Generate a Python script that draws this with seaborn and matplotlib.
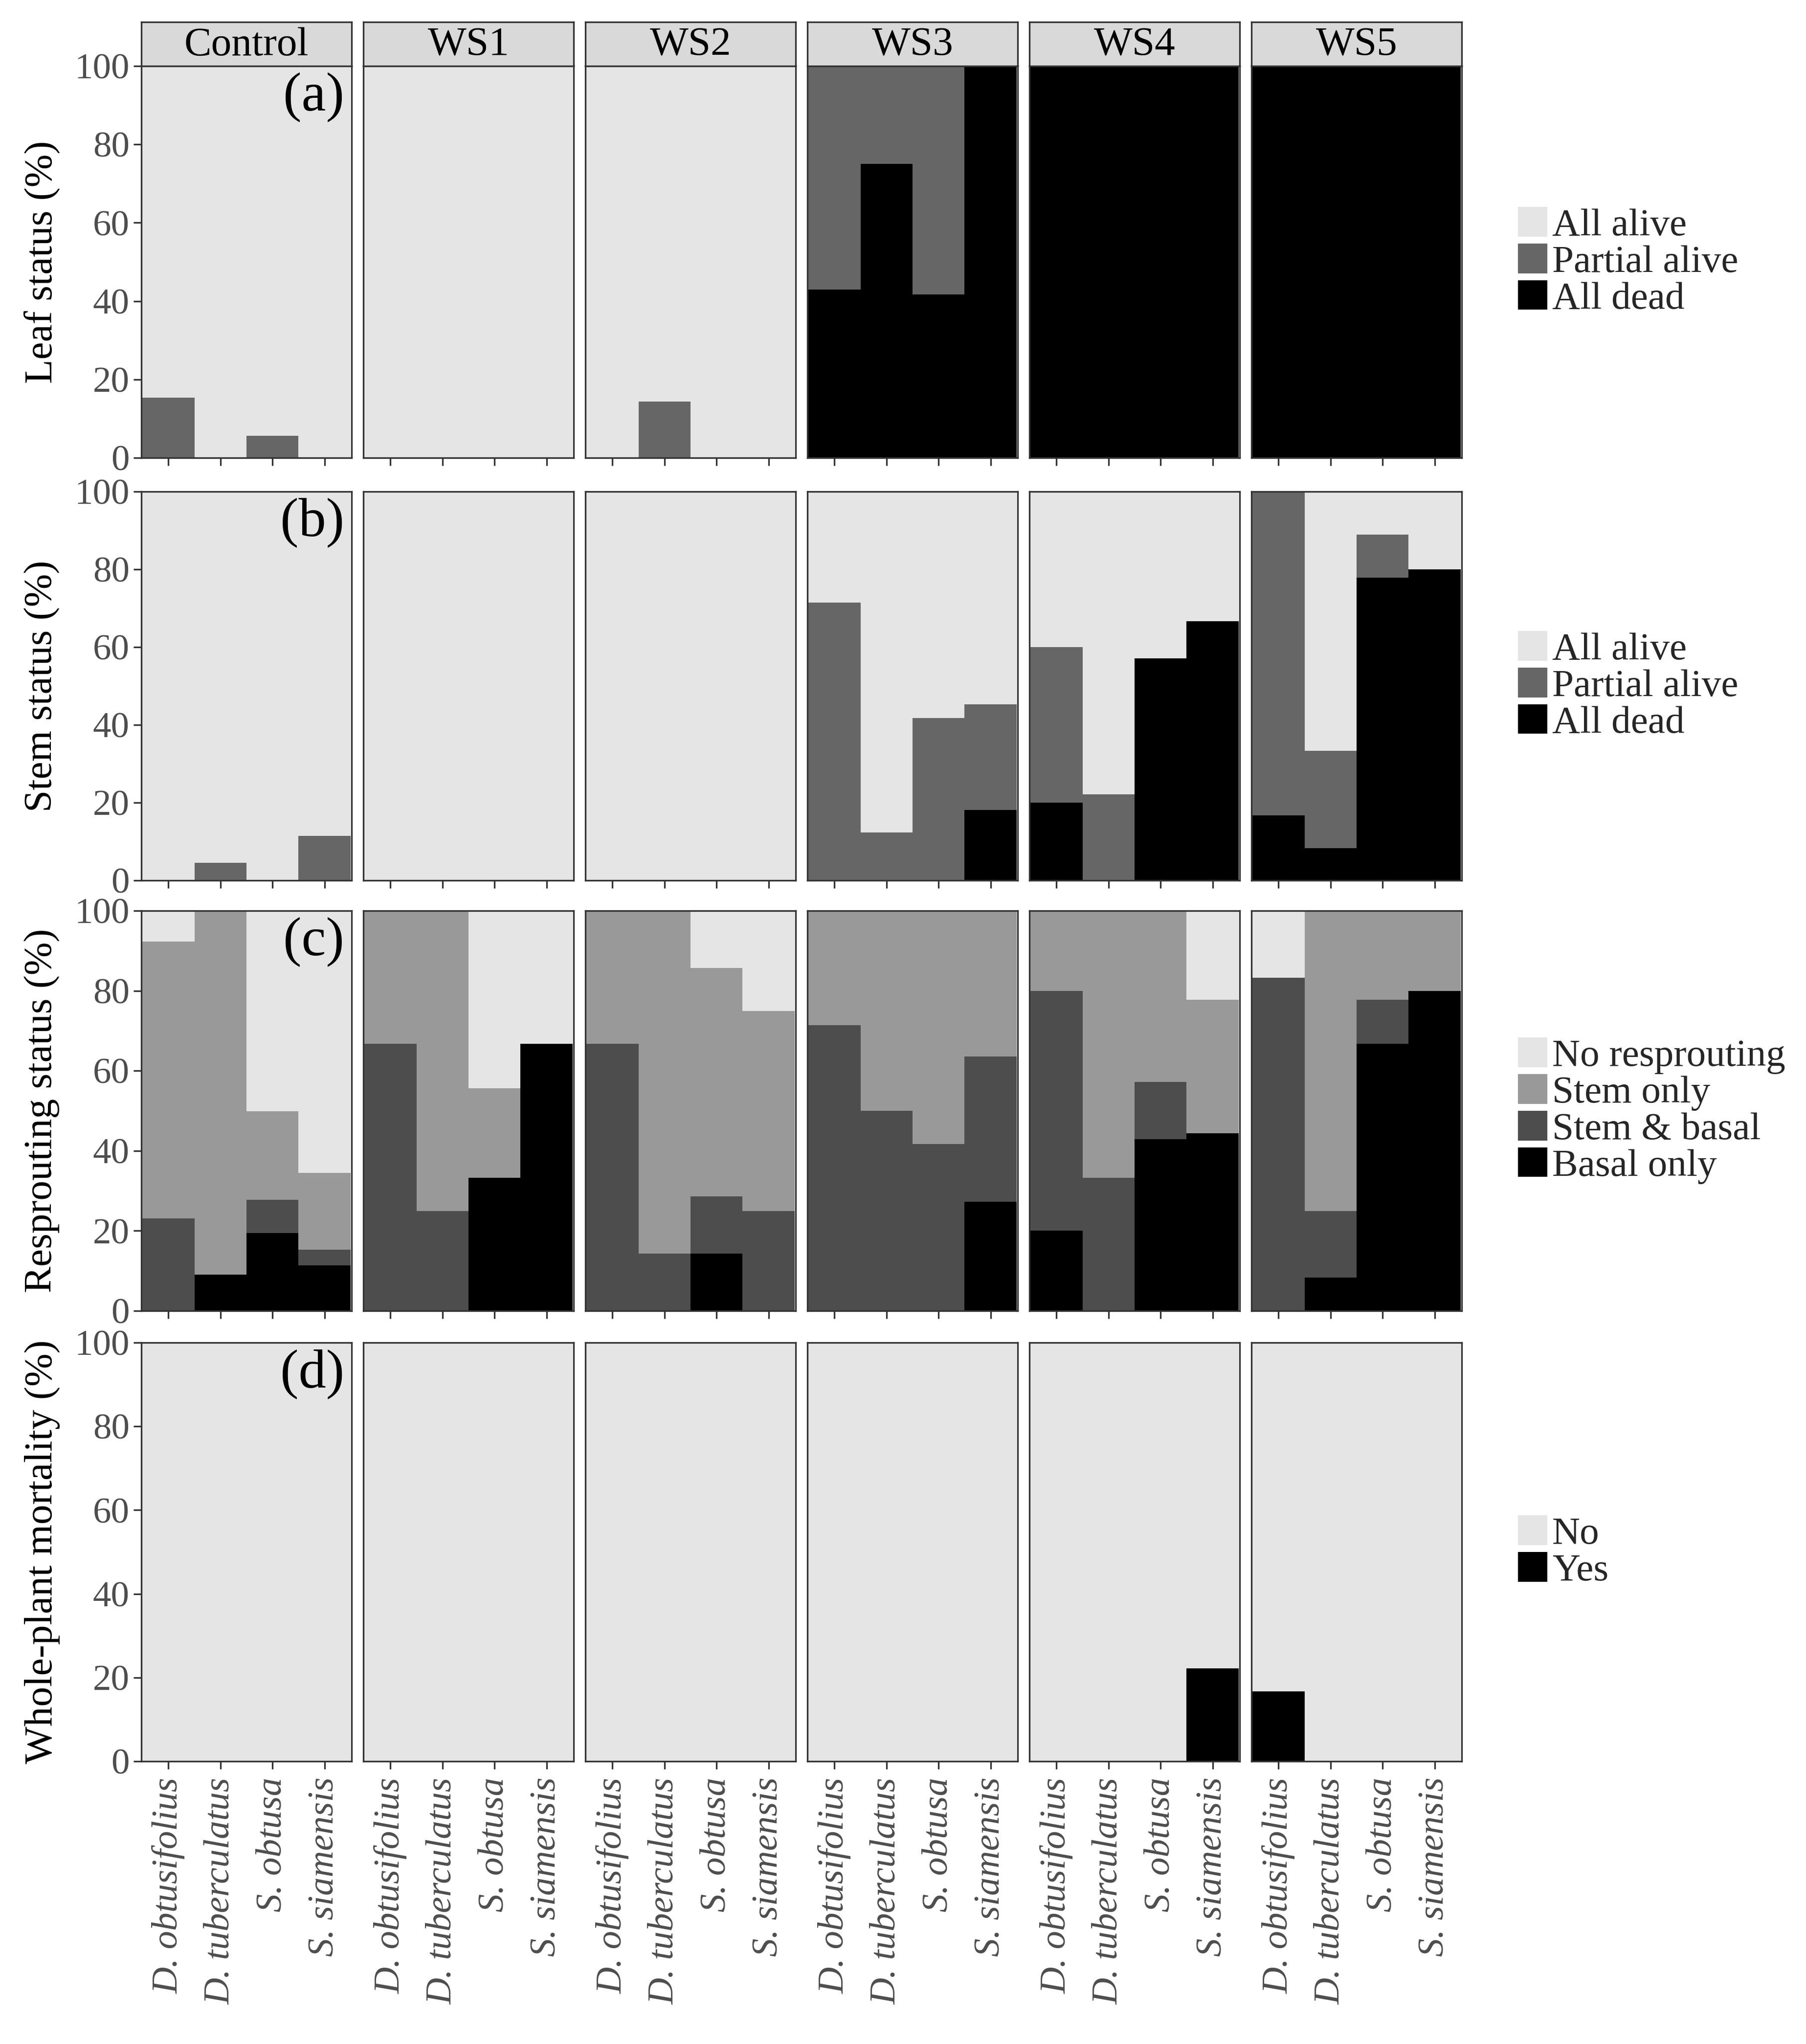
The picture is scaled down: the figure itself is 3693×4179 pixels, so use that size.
import numpy as np
import pandas as pd
import matplotlib
matplotlib.use("Agg")
import matplotlib.pyplot as plt
from matplotlib.patches import Patch
import seaborn as sns

# ---------------- data ----------------
treatments = ["Control", "WS1", "WS2", "WS3", "WS4", "WS5"]
species = ["D. obtusifolius", "D. tuberculatus", "S. obtusa", "S. siamensis"]

# values: 4 species per treatment, treatments in the order above
leaf_all_alive = [84.6, 100, 94.4, 100,  100, 100, 100, 100,  100, 85.7, 100, 100,
                  0, 0, 0, 0,  0, 0, 0, 0,  0, 0, 0, 0]
leaf_partial = [15.4, 0, 5.6, 0,  0, 0, 0, 0,  0, 14.3, 0, 0,
                57.1, 25.0, 58.3, 0,  0, 0, 0, 0,  0, 0, 0, 0]
leaf_all_dead = [0, 0, 0, 0,  0, 0, 0, 0,  0, 0, 0, 0,
                 42.9, 75.0, 41.7, 100,  100, 100, 100, 100,  100, 100, 100, 100]

stem_all_alive = [100, 95.5, 100, 88.6,  100, 100, 100, 100,  100, 100, 100, 100,
                  28.6, 87.7, 58.3, 54.7,  40.0, 77.8, 42.9, 33.3,  0, 66.7, 11.1, 20.0]
stem_partial = [0, 4.5, 0, 11.4,  0, 0, 0, 0,  0, 0, 0, 0,
                71.4, 12.3, 41.7, 27.2,  40.0, 22.2, 0, 0,  83.3, 25.0, 11.1, 0]
stem_all_dead = [0, 0, 0, 0,  0, 0, 0, 0,  0, 0, 0, 0,
                 0, 0, 0, 18.1,  20.0, 0, 57.1, 66.7,  16.7, 8.3, 77.8, 80.0]

resp_none = [7.7, 0, 50.0, 65.5,  0, 0, 44.4, 33.3,  0, 0, 14.3, 25.0,
             0, 0, 0, 0,  0, 0, 0, 22.2,  16.7, 0, 0, 0]
resp_stem_only = [69.2, 90.9, 22.2, 19.2,  33.3, 75.0, 22.3, 0,  33.3, 85.7, 57.1, 50.0,
                  28.6, 50.0, 58.3, 36.4,  20.0, 66.7, 42.8, 33.4,  0, 75.0, 22.2, 20.0]
resp_stem_basal = [23.1, 0, 8.3, 3.9,  66.7, 25.0, 0, 0,  66.7, 14.3, 14.3, 25.0,
                   71.4, 50.0, 41.7, 36.3,  60.0, 33.3, 14.3, 0,  83.3, 16.7, 11.1, 0]
resp_basal_only = [0, 9.1, 19.4, 11.4,  0, 0, 33.3, 66.7,  0, 0, 14.3, 0,
                   0, 0, 0, 27.3,  20.0, 0, 42.9, 44.4,  0, 8.3, 66.7, 80.0]

mort_no = [100, 100, 100, 100,  100, 100, 100, 100,  100, 100, 100, 100,
           100, 100, 100, 100,  100, 100, 100, 77.8,  83.3, 100, 100, 100]
mort_yes = [0, 0, 0, 0,  0, 0, 0, 0,  0, 0, 0, 0,
            0, 0, 0, 0,  0, 0, 0, 22.2,  16.7, 0, 0, 0]

C_LIGHT = "#E5E5E5"
C_MID = "#666666"
C_STEM = "#999999"
C_SB = "#4D4D4D"
C_BLACK = "#000000"

# rows: (ylabel, panel tag, [(label, values, colour)] from top of stack to bottom)
rows = [
    ("Leaf status (%)", "(a)", [("All alive", leaf_all_alive, C_LIGHT),
                                ("Partial alive", leaf_partial, C_MID),
                                ("All dead", leaf_all_dead, C_BLACK)]),
    ("Stem status (%)", "(b)", [("All alive", stem_all_alive, C_LIGHT),
                                ("Partial alive", stem_partial, C_MID),
                                ("All dead", stem_all_dead, C_BLACK)]),
    ("Resprouting status (%)", "(c)", [("No resprouting", resp_none, C_LIGHT),
                                       ("Stem only", resp_stem_only, C_STEM),
                                       ("Stem & basal", resp_stem_basal, C_SB),
                                       ("Basal only", resp_basal_only, C_BLACK)]),
    ("Whole-plant mortality (%)", "(d)", [("No", mort_no, C_LIGHT),
                                          ("Yes", mort_yes, C_BLACK)]),
]

# ---------------- style ----------------
sns.set_theme(style="white")
plt.rcParams["font.family"] = ["Liberation Serif", "DejaVu Serif"]

W, H = 3693, 4179
DPI = 300
fig = plt.figure(figsize=(W / DPI, H / DPI), dpi=DPI)
fig.patch.set_facecolor("white")

col_left0, panel_w, col_step = 289, 430, 454
row_bounds = [(135, 936), (1005, 1800), (1862, 2680), (2745, 3601)]
strip_bounds = (45, 135)
BORDER = "#333333"
TICKC = "#4D4D4D"


def frac_rect(x0, y0, x1, y1):
    return [x0 / W, 1 - y1 / H, (x1 - x0) / W, (y1 - y0) / H]


for r, (ylabel, tag, layers) in enumerate(rows):
    top, bot = row_bounds[r]
    for c, trt in enumerate(treatments):
        x0 = col_left0 + c * col_step
        ax = fig.add_axes(frac_rect(x0, top, x0 + panel_w, bot))
        ax.set_facecolor("white")
        sl = slice(c * 4, c * 4 + 4)
        vals = [np.array(v[sl], dtype=float) for (_, v, _) in layers]
        cum = np.cumsum(vals[::-1], axis=0)[::-1]
        for (lab, _, col), cv in zip(layers, cum):
            df = pd.DataFrame({"species": species, "value": cv})
            sns.barplot(data=df, x="species", y="value", order=species,
                        color=col, saturation=1, width=1.0, errorbar=None,
                        linewidth=0, ax=ax)
        ax.set_xlim(-0.52, 3.52)
        ax.set_ylim(0, 100)
        ax.set_xlabel("")
        ax.set_ylabel("")
        ax.set_yticks([0, 20, 40, 60, 80, 100])
        ax.grid(False)
        for sp in ax.spines.values():
            sp.set_visible(True)
            sp.set_color(BORDER)
            sp.set_linewidth(0.8)
        ax.tick_params(axis="both", which="both", length=3.8, width=0.8,
                       color=BORDER, direction="out", bottom=True,
                       left=(c == 0))
        if c == 0:
            ax.tick_params(axis="y", labelsize=18, labelcolor=TICKC, pad=2)
            ax.text(0.965, 0.985, tag, transform=ax.transAxes, ha="right",
                    va="top", fontsize=27, color="black")
        else:
            ax.set_yticklabels([])
        ax.set_xticks(range(4))
        if r == len(rows) - 1:
            ax.set_xticklabels(species, rotation=90, fontstyle="italic",
                               fontsize=18, color=TICKC, ha="center", va="top")
            ax.tick_params(axis="x", pad=4)
        else:
            ax.set_xticklabels([])
        if r == 0:
            sax = fig.add_axes(frac_rect(x0, strip_bounds[0], x0 + panel_w,
                                         strip_bounds[1]))
            sax.set_facecolor("#D9D9D9")
            sax.set_xticks([])
            sax.set_yticks([])
            for sp in sax.spines.values():
                sp.set_visible(True)
                sp.set_color(BORDER)
                sp.set_linewidth(0.8)
            sax.text(0.5, 0.47, trt, ha="center", va="center", fontsize=20,
                     color="black", transform=sax.transAxes)
    fig.text(86 / W, 1 - ((top + bot) / 2) / H, ylabel, rotation=90,
             ha="center", va="center", fontsize=19.5, color="black")
    handles = [Patch(facecolor=col, edgecolor="none", label=lab)
               for (lab, _, col) in layers]
    fig.legend(handles=handles, loc="center left",
               bbox_to_anchor=(3104 / W, 1 - ((top + bot) / 2) / H),
               frameon=False, fontsize=19, handlelength=0.76,
               handleheight=0.8, handletextpad=0.12, labelspacing=0.0,
               borderpad=0, borderaxespad=0)

fig.savefig("out.png", dpi=DPI, facecolor="white")
